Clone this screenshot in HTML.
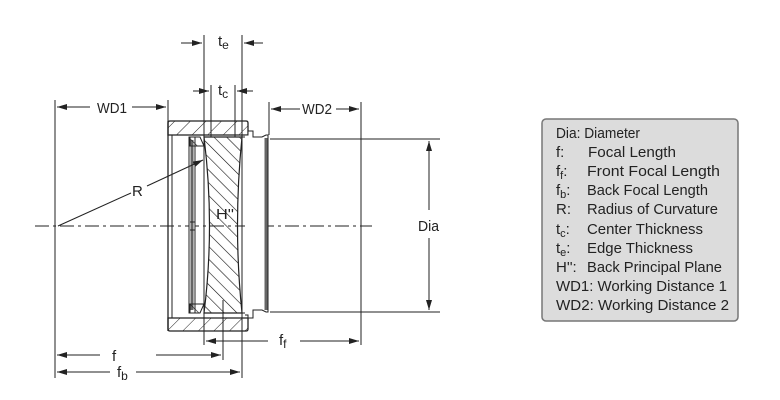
<!DOCTYPE html>
<html><head><meta charset="utf-8"><style>
body{margin:0;background:#fff}
svg{display:block}
text{font-family:"Liberation Sans",sans-serif;fill:#222}
</style></head><body>
<svg width="780" height="400" viewBox="0 0 780 400" xmlns="http://www.w3.org/2000/svg">
<defs>
<pattern id="h1" width="11" height="11" patternUnits="userSpaceOnUse" patternTransform="rotate(45)"><line x1="0" y1="0" x2="0" y2="11" stroke="#222" stroke-width="1"/></pattern>
<pattern id="h2" width="9" height="9" patternUnits="userSpaceOnUse" patternTransform="rotate(-45)"><line x1="0" y1="0" x2="0" y2="9" stroke="#111" stroke-width="1.2"/></pattern>
<marker id="a" markerWidth="10" markerHeight="6" refX="10" refY="3" orient="auto" markerUnits="userSpaceOnUse"><path d="M0,0 L10,3 L0,6 z" fill="#222"/></marker>
</defs>
<g stroke="#222" fill="none" stroke-width="1">
<line x1="35" y1="226" x2="372" y2="226" stroke-dasharray="14,4,3,4"/>
<path d="M170,121 H246 Q248,121 248,123 V135 H168 V123 Q168,121 170,121 Z" fill="url(#h1)" stroke-width="1.3"/>
<path d="M168,318 H248 V329 Q248,331 246,331 H170 Q168,331 168,329 Z" fill="url(#h1)" stroke-width="1.3"/>
<line x1="168" y1="121" x2="168" y2="331" stroke-width="1.3"/>
<line x1="172" y1="135" x2="172" y2="318"/>
<rect x="189" y="137" width="6" height="176" fill="#fff"/>
<line x1="192" y1="140" x2="192" y2="310" stroke="#666" stroke-width="3"/>
<path d="M190,222 h5 v8 h-5" />
<path d="M190,137 L200,137 L204,146 L190,146 Z" fill="url(#h2)"/>
<path d="M190,313 L200,313 L204,304 L190,304 Z" fill="url(#h2)"/>
<path d="M204,137 H242 Q233,226 242,313 H204 Q215,226 204,137 Z" fill="url(#h2)" stroke-width="1.2"/>
<line x1="204" y1="137" x2="248" y2="137"/>
<line x1="204" y1="313" x2="248" y2="313"/>
<path d="M245,135 H248 V131 H253 V137 H262 L266,135 H268 V312 H266 L262,310 H253 V318 H248 V315 H245" fill="#fff"/>
<line x1="266" y1="138" x2="266" y2="310" stroke="#666" stroke-width="3"/>
<line x1="55" y1="100" x2="55" y2="378"/>
<line x1="168" y1="100" x2="168" y2="121"/>
<line x1="204" y1="35" x2="204" y2="345"/>
<line x1="242" y1="35" x2="242" y2="378"/>
<line x1="211" y1="85" x2="211" y2="137"/>
<line x1="235" y1="85" x2="235" y2="137"/>
<line x1="223" y1="300" x2="223" y2="360"/>
<line x1="269" y1="102" x2="269" y2="135"/>
<line x1="361" y1="102" x2="361" y2="345"/>
<line x1="270" y1="139" x2="440" y2="139"/>
<line x1="270" y1="312" x2="440" y2="312"/>
<line x1="90" y1="107" x2="57" y2="107" marker-end="url(#a)"/>
<line x1="132" y1="107" x2="166" y2="107" marker-end="url(#a)"/>
<line x1="300" y1="109" x2="271" y2="109" marker-end="url(#a)"/>
<line x1="336" y1="109" x2="359" y2="109" marker-end="url(#a)"/>
<line x1="181" y1="43" x2="202" y2="43" marker-end="url(#a)"/>
<line x1="263" y1="43" x2="244" y2="43" marker-end="url(#a)"/>
<line x1="193" y1="91" x2="209" y2="91" marker-end="url(#a)"/>
<line x1="253" y1="91" x2="237" y2="91" marker-end="url(#a)"/>
<line x1="100" y1="355" x2="57" y2="355" marker-end="url(#a)"/>
<line x1="156" y1="355" x2="221" y2="355" marker-end="url(#a)"/>
<line x1="110" y1="372" x2="57" y2="372" marker-end="url(#a)"/>
<line x1="136" y1="372" x2="240" y2="372" marker-end="url(#a)"/>
<line x1="268" y1="341" x2="206" y2="341" marker-end="url(#a)"/>
<line x1="300" y1="341" x2="359" y2="341" marker-end="url(#a)"/>
<line x1="429" y1="210" x2="429" y2="141" marker-end="url(#a)"/>
<line x1="429" y1="238" x2="429" y2="310" marker-end="url(#a)"/>
<line x1="58" y1="226" x2="131" y2="193"/>
<line x1="147" y1="186" x2="203" y2="160" marker-end="url(#a)"/>
</g>
<g font-size="15">
<text x="97" y="113" textLength="30" lengthAdjust="spacingAndGlyphs">WD1</text>
<text x="302" y="114" textLength="30" lengthAdjust="spacingAndGlyphs">WD2</text>
<text x="218" y="46">t<tspan font-size="12" dy="3">e</tspan></text>
<text x="218" y="95">t<tspan font-size="12" dy="3">c</tspan></text>
<text x="132" y="196">R</text>
<text x="216" y="219" textLength="18" lengthAdjust="spacingAndGlyphs">H''</text>
<text x="418" y="231" textLength="21" lengthAdjust="spacingAndGlyphs">Dia</text>
<text x="112" y="361">f</text>
<text x="117" y="377">f<tspan font-size="12" dy="3">b</tspan></text>
<text x="279" y="345">f<tspan font-size="12" dy="3">f</tspan></text>
</g>
<rect x="542" y="119" width="196" height="202" rx="4" fill="#dcdcdc" stroke="#777" stroke-width="1.5"/>
<g font-size="15" fill="#333">
<text x="556" y="138" textLength="84" lengthAdjust="spacingAndGlyphs">Dia: Diameter</text>
<text x="556" y="157">f:</text><text x="588" y="157" textLength="88" lengthAdjust="spacingAndGlyphs">Focal Length</text>
<text x="556" y="176">f<tspan font-size="11" dy="3">f</tspan><tspan dy="-3">:</tspan></text><text x="587" y="176" textLength="133" lengthAdjust="spacingAndGlyphs">Front Focal Length</text>
<text x="556" y="195">f<tspan font-size="11" dy="3">b</tspan><tspan dy="-3">:</tspan></text><text x="587" y="195" textLength="121" lengthAdjust="spacingAndGlyphs">Back Focal Length</text>
<text x="556" y="214">R:</text><text x="587" y="214" textLength="131" lengthAdjust="spacingAndGlyphs">Radius of Curvature</text>
<text x="556" y="234">t<tspan font-size="11" dy="3">c</tspan><tspan dy="-3">:</tspan></text><text x="587" y="234" textLength="116" lengthAdjust="spacingAndGlyphs">Center Thickness</text>
<text x="556" y="253">t<tspan font-size="11" dy="3">e</tspan><tspan dy="-3">:</tspan></text><text x="587" y="253" textLength="106" lengthAdjust="spacingAndGlyphs">Edge Thickness</text>
<text x="556" y="272">H'':</text><text x="587" y="272" textLength="135" lengthAdjust="spacingAndGlyphs">Back Principal Plane</text>
<text x="556" y="291" textLength="171" lengthAdjust="spacingAndGlyphs">WD1: Working Distance 1</text>
<text x="556" y="310" textLength="173" lengthAdjust="spacingAndGlyphs">WD2: Working Distance 2</text>
</g>
</svg>
</body></html>
